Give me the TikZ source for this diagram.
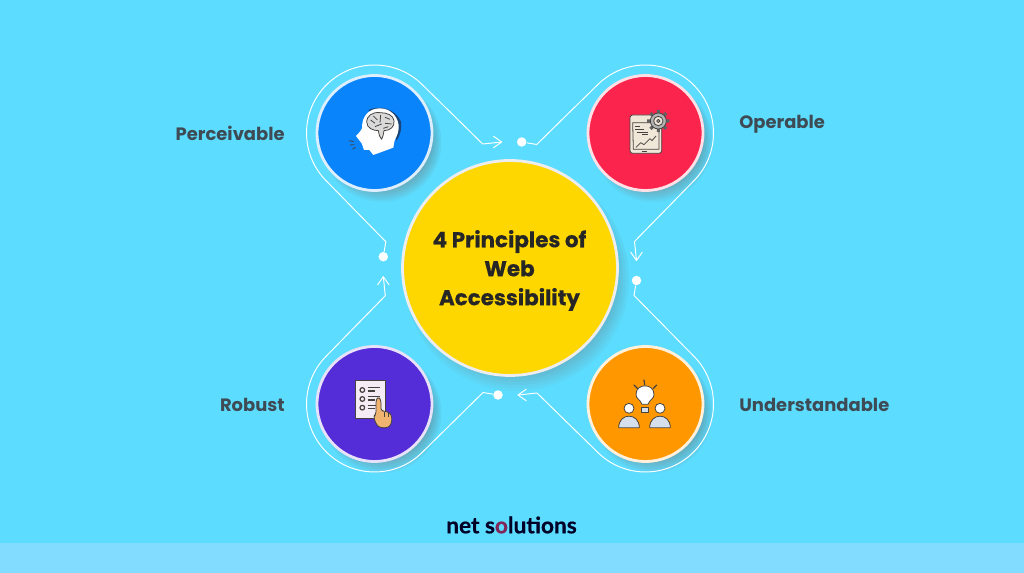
\documentclass[tikz,border=0pt]{standalone}
\usepackage{fontspec}
\setmainfont{Poppins}
\newfontfamily\heavyfont[BoldFeatures={FakeBold=.5}]{Poppins}
\newfontfamily\logofont[BoldFeatures={FakeBold=.4}]{Lato}
\usetikzlibrary{calc}
\definecolor{skybg}{RGB}{92,221,255}
\definecolor{skyband}{RGB}{130,220,255}
\definecolor{inkgray}{RGB}{62,74,84}
\definecolor{inkdark}{RGB}{70,66,64}
\definecolor{ballblue}{RGB}{10,132,250}
\definecolor{ballred}{RGB}{250,36,76}
\definecolor{ballviolet}{RGB}{84,44,216}
\definecolor{ballorange}{RGB}{255,152,0}
\definecolor{ballyellow}{RGB}{255,215,0}
\definecolor{shade}{RGB}{30,85,150}
\definecolor{cream}{RGB}{240,231,216}
\definecolor{skin}{RGB}{240,180,112}
\definecolor{pale}{RGB}{214,224,236}
\tikzset{
    ball/.style={circle,fill=#1,draw=#1!14!white,line width=1.6pt,minimum size=2.3cm,inner sep=0pt},
    pin/.style={circle,fill=white,inner sep=0pt,minimum size=.19cm},
    flow/.style={white,line width=.55pt},
    tag/.style={font=\bfseries\fontsize{10.2}{13}\selectfont,text=inkgray,inner sep=0pt},
    icon/.style={draw=inkdark,line width=.45pt,line join=round},
    zoomed/.style={shift={#1},x=.02cm/3,y=-.02cm/3}
}
\begin{document}
\begin{tikzpicture}[x=.02cm,y=-.02cm,>=stealth]
    \def\bigr{1.36cm}
    \useasboundingbox (0,0) rectangle (1024,573);
    \fill[skybg] (0,0) rectangle (1024,573);
    \fill[skyband] (0,543) rectangle (1024,573);
    %===========================================
    % soft shadows
    \foreach \p/\r in {374.5/133,645.5/133,374.5/404,645.5/404}
        \foreach \s in {60,58,...,46}
            \fill[shade,opacity=.04] (\p+7,\r+9) circle[radius=\s*.02cm];
    \foreach \s in {112,109,...,94}
        \fill[shade,opacity=.03] (517,279) circle[radius=\s*.02cm];
    %===========================================
    \node[pin] (dotl) at (383.3,256.7) {};
    \node[pin] (dott) at (521.7,142) {};
    \node[pin] (dotr) at (636.5,280.5) {};
    \node[pin] (dotb) at (498,395) {};
    \node[ball=ballblue] (perc) at (374.5,133) {};
    \node[ball=ballred] (oper) at (645.5,133) {};
    \node[ball=ballviolet] (robu) at (374.5,404) {};
    \node[ball=ballorange] (unde) at (645.5,404) {};
    \node[ball=ballyellow,minimum size=4.3cm,draw=white!86!gray] (main) at (510,268) {};
    \node[font=\heavyfont\bfseries\fontsize{12.2}{16.5}\selectfont,text=black!85,align=center,inner sep=0pt] (title) at (509.5,270.5)
        {4 Principles of\\Web\\Accessibility};
    %===========================================
    \foreach \d/\c/\e/\ang/\ka/\kb/\tip in {
        dotl/perc/dott/225/{2.5,-15}/{-39,2}/{-20,0},
        dott/oper/dotr/135/{15,2.5}/{-2,-39}/{0,-20},
        dotr/unde/dotb/45/{-2.5,15}/{39,-2}/{20,0},
        dotb/robu/dotl/-45/{-15,-2.5}/{2,39}/{0,20}}{
        \draw[flow] (\d) -- ($(\d)+(\ka)$) -- ($(\c)+(\ang:\bigr)$)
            arc[start angle=\ang,delta angle=-180,radius=\bigr]
            -- ($(\e)+(\kb)$) -- ($(\e)+(\tip)$);
        \draw[flow,line cap=round] ($(\e)+(\tip)$) -- +(\ang-45+35:.2cm)
            ($(\e)+(\tip)$) -- +(\ang-45-35:.2cm);
    }
    %===========================================
    \node[tag,anchor=base east] (ptag) at (285,141) {Perceivable};
    \node[tag,anchor=base west] (otag) at (739,129) {Operable};
    \node[tag,anchor=base east] (rtag) at (285,412) {Robust};
    \node[tag,anchor=base west] (utag) at (739,412) {Understandable};
    \node[font=\logofont\bfseries\fontsize{12.9}{16}\selectfont,text=black!85!blue,inner sep=0pt] (logo) at (511.5,525)
        {net s{\color{violet!70!olive}o}lutions};
    %===========================================
    % brain
    \begin{scope}[zoomed={(340,100)}]
        \fill[shade!80!black] (85,30) .. controls (120,15) and (165,25) .. (183,65) .. controls (186,90) and (180,105) .. (170,122) -- (160,100) -- cycle;
        \fill[white] (66,85) .. controls (65,45) and (90,25) .. (120,25) .. controls (155,25) and (178,55) .. (176,85)
            .. controls (175,105) and (165,115) .. (163,125) -- (160,143) -- (100,165) -- (88,150) -- (72,150)
            -- (65,130) -- (48,108) -- (60,95) -- cycle;
        \filldraw[icon,fill=gray!30] (120,38) .. controls (95,35) and (80,50) .. (80,65) .. controls (80,85) and (100,92) .. (115,92)
            .. controls (118,105) and (118,112) .. (125,118) .. controls (130,110) and (130,100) .. (132,92)
            .. controls (150,92) and (165,80) .. (162,62) .. controls (160,45) and (140,38) .. (120,38) -- cycle;
        \draw[icon] (92,60) -- (105,70) (100,48) -- (112,60) (122,45) -- (120,68) (135,52) -- (150,58)
            (105,80) -- (125,72) (135,70) -- (155,72) (130,85) -- (145,80);
        \draw[icon,line cap=round] (28,122) -- (40,125) (30,135) -- (42,134) (38,147) -- (46,142);
    \end{scope}
    % tablet and gear
    \begin{scope}[zoomed={(620,100)}]
        \filldraw[icon,fill=cream,rounded corners=1.5pt] (30,45) rectangle (125,160);
        \draw[icon] (38,68) -- (40,148) -- (117,148) -- (117,68) -- cycle;
        \draw[icon] (45,78) -- (60,78) (45,87) -- (72,87) (50,96) -- (85,96) (65,104) -- (85,104);
        \draw[icon] (48,142) -- (62,128) -- (72,134) -- (90,116) -- (96,122) -- (108,108);
        \draw[icon,line width=.8pt] (65,155) -- (82,155);
        \foreach \t in {0,45,...,315}
            \fill[gray!75!black] ($(115,63)+(\t-12:.15cm)$) -- ($(115,63)+(\t-8:.225cm)$) -- ($(115,63)+(\t+8:.225cm)$) -- ($(115,63)+(\t+12:.15cm)$) -- cycle;
        \filldraw[icon,fill=gray!60] (115,63) circle[radius=24];
        \filldraw[icon,fill=cream] (115,63) circle[radius=14];
        \filldraw[icon,fill=gray!60] (115,63) circle[radius=5];
    \end{scope}
    % checklist and finger
    \begin{scope}[zoomed={(345,375)}]
        \filldraw[icon,fill=white!92!violet] (32,15) rectangle (122,130);
        \foreach \r in {45,72,98}{
            \draw[icon,line width=.7pt] (52,\r) circle[radius=7];
            \draw[icon,line width=.6pt] (68,\r-7) -- (105,\r-7) (68,\r+3) -- (90,\r+3);
        }
        \filldraw[icon,fill=skin,rounded corners=1.5pt] (93,75) -- (100,65) -- (108,75) -- (108,108) -- (120,108) -- (130,112) -- (140,120)
            -- (140,145) -- (130,158) -- (105,158) -- (95,150) -- (85,125) -- (93,118) -- cycle;
        \draw[icon] (118,110) -- (118,125) (130,113) -- (130,125);
    \end{scope}
    % bulb and people
    \begin{scope}[zoomed={(610,375)}]
        \draw[icon,line width=.7pt,line cap=round] (102,15) -- (104,30) (72,30) -- (82,40) (140,30) -- (130,40);
        \filldraw[icon,fill=white] (96,88) .. controls (90,72) and (78,72) .. (78,58) .. controls (78,24) and (132,24) .. (132,58)
            .. controls (132,72) and (120,72) .. (114,88) -- cycle;
        \filldraw[icon,fill=pale] (94,98) rectangle (115,112);
        \foreach \p in {57,150}{
            \filldraw[icon,fill=pale] (\p-31,158) .. controls (\p-31,112) and (\p+31,112) .. (\p+31,158) -- cycle;
            \filldraw[icon,fill=white] (\p,100) circle[radius=15];
        }
    \end{scope}
\end{tikzpicture}
\end{document}
